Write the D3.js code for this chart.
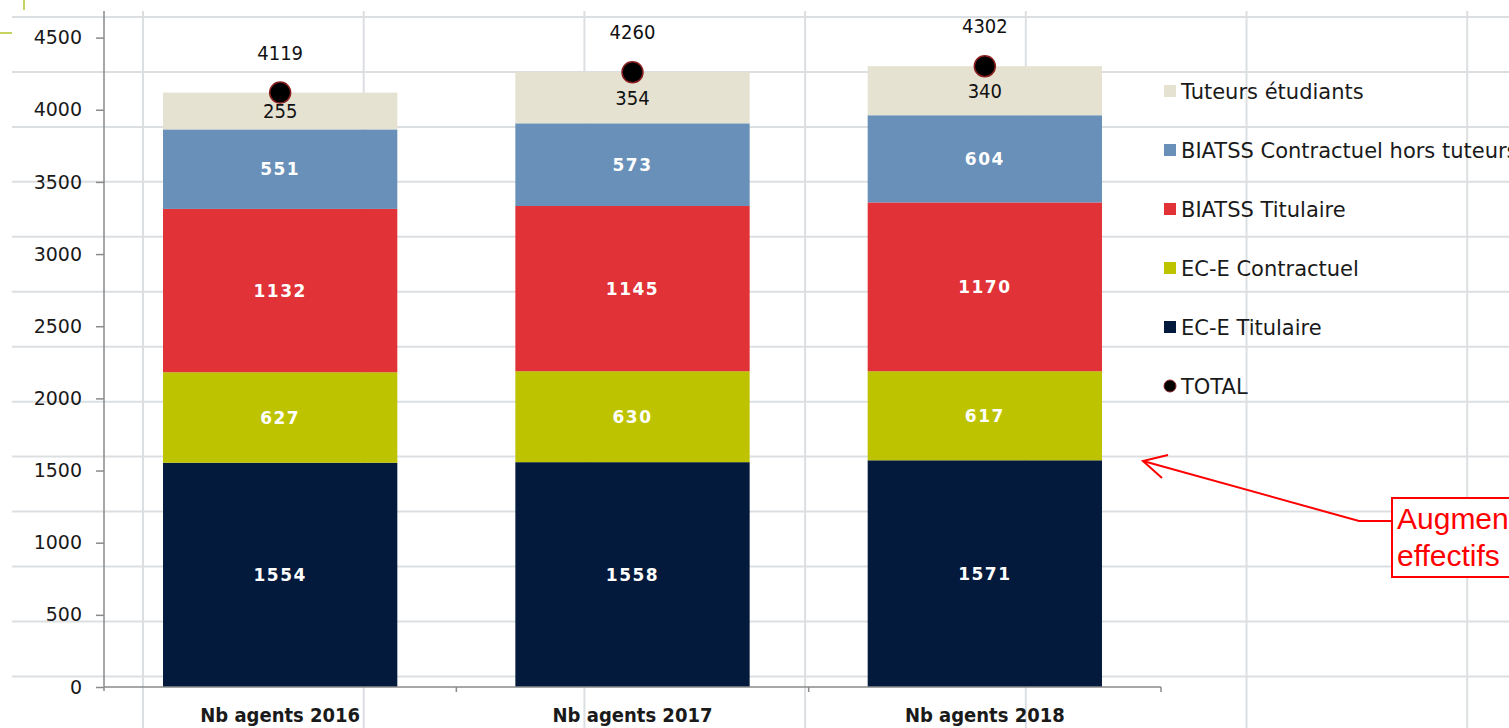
<!DOCTYPE html>
<html>
<head>
<meta charset="utf-8">
<script src="https://cdn.jsdelivr.net/npm/d3@7"></script>
<style>
  body { margin: 0; background: #fff; }
  svg { display: block; }
</style>
</head>
<body>
<div id="chart"></div>
<script>
const WIDTH = 1509;
const HEIGHT = 728;

// data
const categories = ["Nb agents 2016", "Nb agents 2017", "Nb agents 2018"];
const seriesNames = ["EC-E Titulaire", "EC-E Contractuel", "BIATSS Titulaire", "BIATSS Contractuel hors tuteurs", "Tuteurs étudiants"];
const ecTitulaire = [1554, 1558, 1571];
const ecContractuel = [627, 630, 617];
const biatssTitulaire = [1132, 1145, 1170];
const biatssContractuel = [551, 573, 604];
const tuteurs = [255, 354, 340];
const totals = [4119, 4260, 4302];
const yTicks = [0, 500, 1000, 1500, 2000, 2500, 3000, 3500, 4000, 4500];
const legendOrder = ["Tuteurs étudiants", "BIATSS Contractuel hors tuteurs", "BIATSS Titulaire", "EC-E Contractuel", "EC-E Titulaire", "TOTAL"];
const annotationLines = ["Augmentation des", "effectifs"];

const colors = {
  "EC-E Titulaire": "#031a3c",
  "EC-E Contractuel": "#bec300",
  "BIATSS Titulaire": "#e03237",
  "BIATSS Contractuel hors tuteurs": "#6990b8",
  "Tuteurs étudiants": "#e5e2d1"
};
const labelColors = {
  "EC-E Titulaire": "#fff",
  "EC-E Contractuel": "#fff",
  "BIATSS Titulaire": "#fff",
  "BIATSS Contractuel hors tuteurs": "#fff",
  "Tuteurs étudiants": "#111"
};

const seriesValues = [ecTitulaire, ecContractuel, biatssTitulaire, biatssContractuel, tuteurs];
const rows = categories.map(function(c, i) {
  let r = {cat: c, total: totals[i]};
  seriesNames.forEach(function(s, j) { r[s] = seriesValues[j][i]; });
  return r;
});

const FONT = "'DejaVu Sans', sans-serif";
const FONT_COND = "'DejaVu Sans Condensed', 'DejaVu Sans', sans-serif";

let svg = d3.select('#chart').append('svg')
    .attr("width", WIDTH)
    .attr("height", HEIGHT);

// spreadsheet grid behind the chart
let grid = svg.append("g").attr("class", "sheet-grid")
    .attr("stroke", "#dcdfe2").attr("stroke-width", 2);
d3.range(17, HEIGHT, 54.95).forEach(function(y) {
  grid.append("line").attr("x1", 12).attr("x2", WIDTH).attr("y1", y).attr("y2", y);
});
d3.range(143, WIDTH, 220.7).forEach(function(x) {
  grid.append("line").attr("x1", x).attr("x2", x).attr("y1", 11).attr("y2", HEIGHT);
});
// slide decoration marks
svg.append("line").attr("x1", 24).attr("x2", 24).attr("y1", 0).attr("y2", 10)
    .attr("stroke", "#b5c52a").attr("stroke-width", 1.5);
svg.append("line").attr("x1", 0).attr("x2", 12).attr("y1", 33).attr("y2", 33)
    .attr("stroke", "#b5c52a").attr("stroke-width", 1.5);

// scales
let x0 = 104, x1 = 1161, yBase = 687;
let xScale = d3.scaleBand().domain(categories).range([x0, x1])
    .paddingInner(0.335).paddingOuter(0.1675);
let yScale = d3.scaleLinear().domain([0, 4500]).range([yBase, 37.6]);

// stacked bars
let stack = d3.stack().keys(seriesNames);
let layers = stack(rows);

let bars = svg.append("g").attr("class", "bars");
layers.forEach(function(layer) {
  let key = layer.key;
  bars.selectAll(".seg-" + seriesNames.indexOf(key))
      .data(layer)
    .enter().append("rect")
      .attr("x", function(d) { return xScale(d.data.cat); })
      .attr("y", function(d) { return yScale(d[1]); })
      .attr("width", xScale.bandwidth())
      .attr("height", function(d) { return yScale(d[0]) - yScale(d[1]); })
      .attr("fill", colors[key]);
});

// y axis
let yAxis = d3.axisLeft(yScale).tickValues(yTicks).tickFormat(d3.format("d"))
    .tickSize(8).tickPadding(14).tickSizeOuter(0);
let yG = svg.append("g").attr("transform", "translate(" + x0 + ",0)").call(yAxis);
yG.select(".domain").remove();
yG.append("line").attr("x1", 0).attr("x2", 0).attr("y1", 11).attr("y2", yBase + 4)
    .attr("stroke", "#8a8a8a").attr("stroke-width", 1.5);
yG.selectAll(".tick line").attr("stroke", "#8a8a8a").attr("stroke-width", 1.5);
yG.selectAll(".tick text")
    .attr("fill", "#1a1a1a")
    .style("font-family", FONT)
    .style("font-size", "19px");

// x axis
let xG = svg.append("g").attr("class", "x axis");
xG.append("line").attr("x1", x0).attr("x2", x1).attr("y1", yBase).attr("y2", yBase)
    .attr("stroke", "#8a8a8a").attr("stroke-width", 1.5);
let step = xScale.step();
categories.forEach(function(c, i) {
  let bx = xScale(c) + xScale.bandwidth() / 2 + step / 2;
  xG.append("line").attr("x1", bx).attr("x2", bx).attr("y1", yBase).attr("y2", yBase + 5)
      .attr("stroke", "#8a8a8a").attr("stroke-width", 1.5);
  xG.append("text")
      .attr("x", xScale(c) + xScale.bandwidth() / 2)
      .attr("y", 722)
      .attr("text-anchor", "middle")
      .attr("fill", "#1a1a1a")
      .style("font-family", FONT_COND)
      .style("font-size", "20px")
      .style("font-weight", "bold")
      .text(c);
});

// segment labels
let labels = svg.append("g").attr("class", "seg-labels");
layers.forEach(function(layer) {
  let key = layer.key;
  let isTut = key === "Tuteurs étudiants";
  labels.selectAll(null)
      .data(layer)
    .enter().append("text")
      .attr("x", function(d) { return xScale(d.data.cat) + xScale.bandwidth() / 2; })
      .attr("y", function(d) { return (yScale(d[0]) + yScale(d[1])) / 2; })
      .attr("dy", "0.36em")
      .attr("text-anchor", "middle")
      .attr("fill", labelColors[key])
      .style("font-family", isTut ? FONT_COND : FONT)
      .style("font-size", isTut ? "20px" : "17px")
      .style("font-weight", isTut ? "normal" : "bold")
      .style("letter-spacing", isTut ? "0px" : "1.5px")
      .text(function(d) { return d[1] - d[0]; });
});

// totals
let tot = svg.append("g").attr("class", "totals");
tot.selectAll("circle")
    .data(rows)
  .enter().append("circle")
    .attr("cx", function(d) { return xScale(d.cat) + xScale.bandwidth() / 2; })
    .attr("cy", function(d) { return yScale(d.total); })
    .attr("r", 10.5)
    .attr("fill", "#000")
    .attr("stroke", "#8a2020")
    .attr("stroke-width", 1.5);
tot.selectAll("text")
    .data(rows)
  .enter().append("text")
    .attr("x", function(d) { return xScale(d.cat) + xScale.bandwidth() / 2; })
    .attr("y", function(d) { return yScale(d.total) - 33; })
    .attr("text-anchor", "middle")
    .attr("fill", "#111")
    .style("font-family", FONT_COND)
    .style("font-size", "20px")
    .text(function(d) { return d.total; });

// legend
let legend = svg.append("g").attr("class", "legend");
legendOrder.forEach(function(name, i) {
  let cy = 91 + i * 59;
  if (name === "TOTAL") {
    legend.append("circle").attr("cx", 1170).attr("cy", cy).attr("r", 6)
        .attr("fill", "#000").attr("stroke", "#8a2020").attr("stroke-width", 1);
  } else {
    legend.append("rect").attr("x", 1164).attr("y", cy - 6).attr("width", 12).attr("height", 12)
        .attr("fill", colors[name]);
  }
  legend.append("text")
      .attr("x", 1181)
      .attr("y", cy)
      .attr("dy", "0.36em")
      .attr("fill", "#1a1a1a")
      .style("font-family", FONT)
      .style("font-size", "21px")
      .text(name);
});

// annotation
let ann = svg.append("g").attr("class", "annotation");
ann.append("path")
    .attr("d", "M1392,521 L1359,521 L1143,461")
    .attr("fill", "none").attr("stroke", "#ff0000").attr("stroke-width", 2);
ann.append("path")
    .attr("d", "M1168,455 L1143,461 L1162,478")
    .attr("fill", "none").attr("stroke", "#ff0000").attr("stroke-width", 2);
ann.append("rect").attr("x", 1392).attr("y", 498).attr("width", 200).attr("height", 79)
    .attr("fill", "#fff").attr("stroke", "#ff0000").attr("stroke-width", 2);
annotationLines.forEach(function(t, i) {
  ann.append("text")
      .attr("x", 1397)
      .attr("y", 529 + i * 37)
      .attr("fill", "#ff0000")
      .style("font-family", "'Liberation Sans', Arial, sans-serif")
      .style("font-size", "30px")
      .text(t);
});
</script>
</body>
</html>
